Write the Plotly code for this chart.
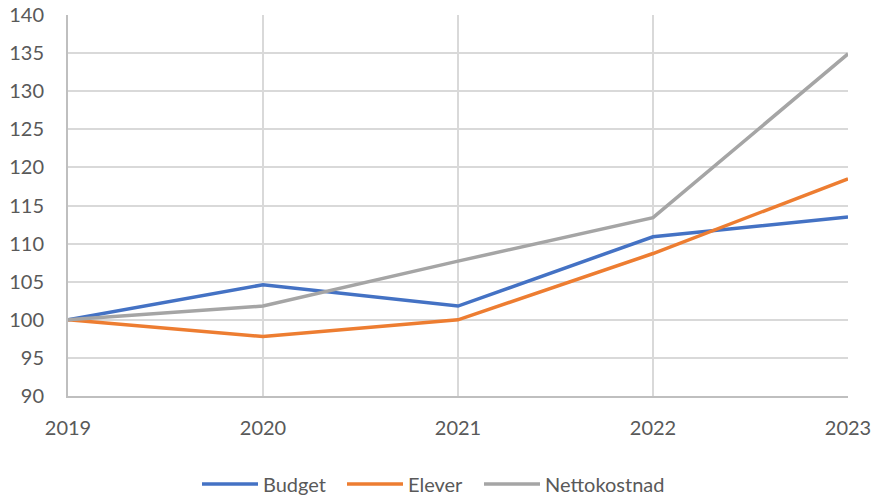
import plotly.graph_objects as go

years = ["2019", "2020", "2021", "2022", "2023"]
budget = [100, 104.6, 101.8, 110.9, 113.5]
elever = [100, 97.8, 100.0, 108.7, 118.5]
netto = [100, 101.8, 107.7, 113.4, 134.9]

series = [("Budget", budget, "#4472C4"), ("Elever", elever, "#ED7D31"), ("Nettokostnad", netto, "#A5A5A5")]
legend_ids = ["legend", "legend2", "legend3"]
legend_x_px = [197, 342, 479]

font = dict(family="Lato, Carlito, Calibri, sans-serif", size=20, color="#595959")

fig = go.Figure()
for (name, vals, col), lid in zip(series, legend_ids):
    fig.add_trace(go.Scatter(x=years, y=vals, name=name, mode="lines", legend=lid,
                             line=dict(color=col, width=3.5)))

layout_legends = {}
for lid, px in zip(legend_ids, legend_x_px):
    layout_legends[lid] = dict(orientation="h", x=px / 874, xanchor="left", xref="container",
                               y=0.022, yanchor="middle", yref="container",
                               font=font, itemwidth=56, bgcolor="rgba(0,0,0,0)")

fig.update_layout(
    width=874, height=495,
    margin=dict(l=68, r=26, t=15, b=99),
    paper_bgcolor="white", plot_bgcolor="white",
    font=font,
    showlegend=True,
    **layout_legends,
)
fig.update_xaxes(type="category", range=[0, 4], showgrid=True, gridcolor="#D9D9D9", gridwidth=2,
                 showline=True, linecolor="#BFBFBF", linewidth=2, automargin=False,
                 ticklabeloverflow="allow",
                 ticks="outside", ticklen=13, tickcolor="rgba(0,0,0,0)", tickfont=font)
fig.update_yaxes(range=[90, 140], dtick=5, showgrid=True, gridcolor="#D9D9D9", gridwidth=2,
                 showline=True, linecolor="#BFBFBF", linewidth=2, zeroline=False, automargin=False,
                 ticklabeloverflow="allow",
                 ticks="outside", ticklen=18, tickcolor="rgba(0,0,0,0)", tickfont=font)

fig.write_html("out.html", config={"displayModeBar": False},
               post_script="document.body.style.margin='0';document.body.style.overflow='hidden';")
